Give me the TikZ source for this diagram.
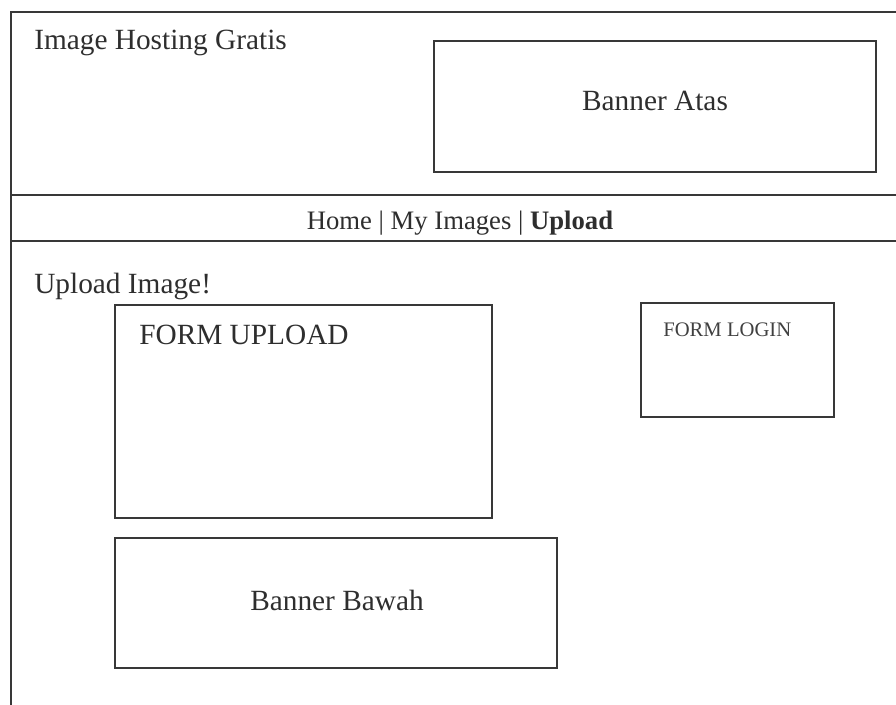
\documentclass[tikz,border=0pt]{standalone}
\usepackage{fontspec}
\setmainfont{Liberation Serif}
\tikzset{
  wire/.style={draw=black!78, line width=1.3pt},
  bigtxt/.style={text=black!82, font=\fontsize{22}{26}\selectfont, inner sep=0pt},
  smalltxt/.style={text=black!75, font=\fontsize{15.5}{18}\selectfont, inner sep=0pt}
}
\begin{document}
\begin{tikzpicture}[x=0.75pt,y=0.75pt,yscale=-1,xscale=1]
\useasboundingbox (0,0) rectangle (896,705);

%Straight Lines
\draw[wire]    (11,705) -- (11,12) -- (896,12) ;
%Straight Lines
\draw[wire]    (11,195) -- (896,195) ;
%Straight Lines
\draw[wire]    (11,241) -- (896,241) ;

%Shape: Rectangle
\draw[wire]   (434,41) rectangle (876,172) ;
%Shape: Rectangle
\draw[wire]   (115,305) rectangle (492,518) ;
%Shape: Rectangle
\draw[wire]   (641,303) rectangle (834,417) ;
%Shape: Rectangle
\draw[wire]   (115,538) rectangle (557,668) ;

% Text Node
\draw (34,43) node[bigtxt, anchor=west] (title) {Image Hosting Gratis};
% Text Node
\draw (655,101) node[bigtxt] (bannerAtas) {Banner Atas};
% Text Node
\draw (460,223) node[bigtxt, font=\fontsize{20}{24}\selectfont] (menu) {Home | My Images | \textbf{Upload}};
% Text Node
\draw (34,286) node[bigtxt, anchor=west] (uploadImg) {Upload Image!};
% Text Node
\draw (139,335) node[bigtxt, anchor=west] (formUpload) {FORM UPLOAD};
% Text Node
\draw (663,330) node[smalltxt, anchor=west] (formLogin) {FORM LOGIN};
% Text Node
\draw (337,600) node[bigtxt] (bannerBawah) {Banner Bawah};

\end{tikzpicture}
\end{document}
